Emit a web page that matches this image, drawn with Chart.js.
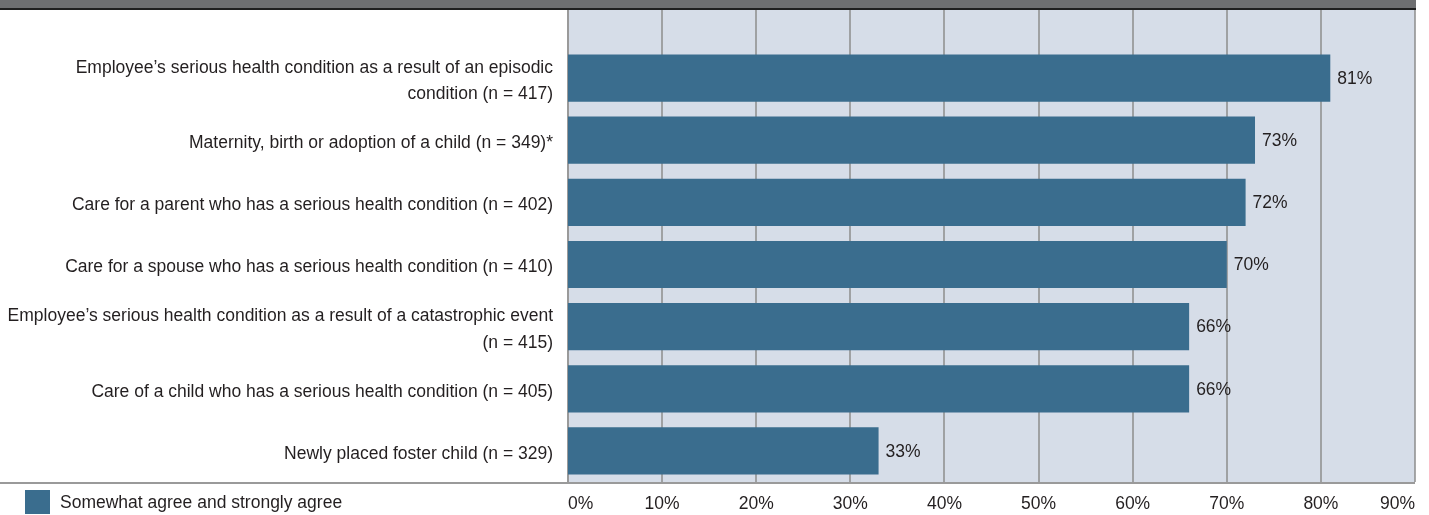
<!DOCTYPE html>
<html lang="en">
<head>
    <meta charset="UTF-8">
    <title>Leave reasons</title>
    <script src="https://cdn.jsdelivr.net/npm/chart.js"></script>
    <style>
        html, body { margin: 0; padding: 0; background: #fff; }
        .wrapper { width: 1429px; height: 515px; position: relative; }
    </style>
</head>
<body>
<div class="wrapper">
    <canvas id="chart" width="1429" height="515"></canvas>
</div>
<script>
    // categories (top to bottom)
    const categories = [
        ["Employee\u2019s serious health condition as a result of an episodic", "condition (n = 417)"],
        "Maternity, birth or adoption of a child (n = 349)*",
        "Care for a parent who has a serious health condition (n = 402)",
        "Care for a spouse who has a serious health condition (n = 410)",
        ["Employee\u2019s serious health condition as a result of a catastrophic event", "(n = 415)"],
        "Care of a child who has a serious health condition (n = 405)",
        "Newly placed foster child (n = 329)"
    ];
    const agreeValues = [81, 73, 72, 70, 66, 66, 33];
    const seriesName = "Somewhat agree and strongly agree";
    const xTicks = [0, 10, 20, 30, 40, 50, 60, 70, 80, 90];

    const barColor = "#3a6d8e";
    const textColor = "#231f20";
    const fontFamily = "'Liberation Sans', Arial, sans-serif";
    const fontSize = 17.5;

    // background, top band, grid lines, value labels, legend
    const decorPlugin = {
        id: 'decor',
        beforeDatasetsDraw(chart) {
            const ctx = chart.ctx;
            const area = chart.chartArea;
            const xs = chart.scales.x;
            const topY = 10;
            ctx.save();
            // top band
            ctx.fillStyle = "#6e6f71";
            ctx.fillRect(0, 0, xs.right + 1, 8);
            ctx.fillStyle = "#1f1f1f";
            ctx.fillRect(0, 8, xs.right + 1, 2);
            // plot background
            ctx.fillStyle = "#d6dde8";
            ctx.fillRect(xs.left, topY, xs.right - xs.left, area.bottom - topY);
            // vertical grid lines
            ctx.strokeStyle = "#8c8c8c";
            ctx.lineWidth = 1.5;
            xTicks.forEach(t => {
                const x = Math.round(xs.getPixelForValue(t));
                ctx.beginPath();
                ctx.moveTo(x, topY);
                ctx.lineTo(x, area.bottom);
                ctx.stroke();
            });
            // left axis line
            ctx.strokeStyle = "#9a9a9a";
            ctx.lineWidth = 2;
            ctx.beginPath();
            ctx.moveTo(xs.left, topY);
            ctx.lineTo(xs.left, area.bottom);
            ctx.stroke();
            // bottom rule
            ctx.beginPath();
            ctx.moveTo(0, area.bottom + 1);
            ctx.lineTo(xs.right, area.bottom + 1);
            ctx.stroke();
            ctx.restore();
        },
        afterDatasetsDraw(chart) {
            const ctx = chart.ctx;
            const meta = chart.getDatasetMeta(0);
            ctx.save();
            ctx.font = fontSize + "px " + fontFamily;
            ctx.fillStyle = textColor;
            ctx.textBaseline = "middle";
            ctx.textAlign = "left";
            meta.data.forEach((bar, i) => {
                ctx.fillText(agreeValues[i] + "%", bar.x + 7, bar.y + 1);
            });
            // legend
            const ds = chart.data.datasets[0];
            ctx.fillStyle = ds.backgroundColor;
            ctx.fillRect(25, 490, 25, 24);
            ctx.fillStyle = textColor;
            ctx.fillText(ds.label, 60, 503);
            ctx.restore();
        }
    };

    const ctx = document.getElementById('chart').getContext('2d');
    const chart = new Chart(ctx, {
        type: 'bar',
        data: {
            labels: categories,
            datasets: [{
                label: seriesName,
                data: agreeValues,
                backgroundColor: barColor,
                borderWidth: 0,
                categoryPercentage: 1,
                barPercentage: 0.76
            }]
        },
        options: {
            indexAxis: 'y',
            responsive: false,
            animation: false,
            layout: { padding: { top: 47, right: 14, left: 0, bottom: 0 } },
            plugins: {
                legend: { display: false },
                tooltip: { enabled: false }
            },
            scales: {
                x: {
                    min: 0,
                    max: 90,
                    afterBuildTicks(scale) {
                        scale.ticks = xTicks.map(v => ({ value: v }));
                    },
                    afterFit(scale) { scale.height = 33; },
                    grid: { display: false, drawTicks: false },
                    border: { display: false },
                    ticks: {
                        align: 'inner',
                        padding: 12,
                        color: textColor,
                        font: { family: fontFamily, size: fontSize },
                        callback: v => v + "%"
                    }
                },
                y: {
                    afterFit(scale) {
                        scale.width = 568;
                        scale.paddingTop = 0;
                        scale.paddingBottom = 0;
                    },
                    grid: { display: false, drawTicks: false },
                    border: { display: false },
                    ticks: {
                        padding: 15,
                        labelOffset: 3,
                        color: textColor,
                        font: { family: fontFamily, size: fontSize, lineHeight: 1.5 }
                    }
                }
            }
        },
        plugins: [decorPlugin]
    });
</script>
</body>
</html>
